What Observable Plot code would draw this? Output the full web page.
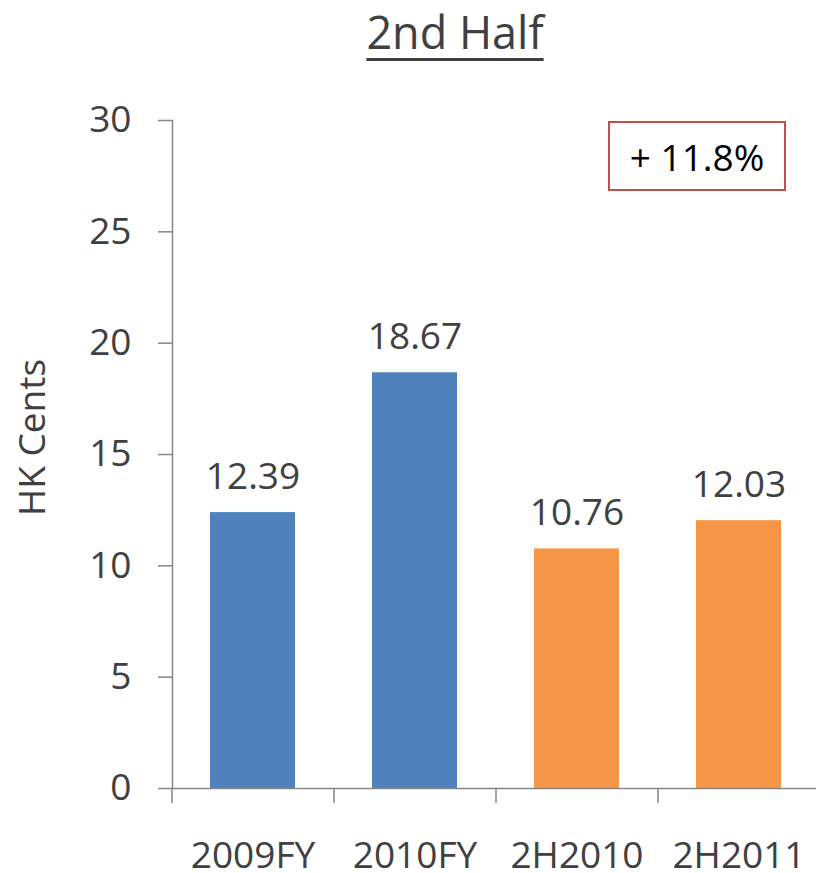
<!DOCTYPE html>
<html>
<head>
<meta charset="utf-8">
<script src="https://cdn.jsdelivr.net/npm/d3@7"></script>
<script src="https://cdn.jsdelivr.net/npm/@observablehq/plot@0.6"></script>
<style>
  html, body { margin: 0; padding: 0; background: #fff; }
  #wrap { position: relative; width: 816px; height: 873px; font-family: "Open Sans", sans-serif; }
  #title {
    position: absolute; left: 0; top: 0; width: 910px; text-align: center;
    font-size: 45px; line-height: 45px; padding-top: 9px; color: #404040;
  }
  #title span {
    text-decoration: underline; text-decoration-thickness: 3px; text-underline-offset: 9px;
  }
  #chart { position: absolute; left: 0; top: 70px; }
  #chart svg { overflow: visible; }
  #note {
    position: absolute; left: 608px; top: 121px; width: 174px; height: 66px;
    border: 2px solid #C0504D; box-sizing: content-box;
    display: flex; align-items: center; justify-content: center;
    font-size: 37px; color: #000;
  }
</style>
</head>
<body>
<div id="wrap">
  <div id="title"><span>2nd Half</span></div>
  <div id="chart"></div>
  <div id="note"></div>
</div>
<script>
// Dividend per share, HK cents
const categories = ["2009FY", "2010FY", "2H2010", "2H2011"];
const values = [12.39, 18.67, 10.76, 12.03];
const periodType = ["Full year", "Full year", "Second half", "Second half"];
const yTicks = [0, 5, 10, 15, 20, 25, 30];
const changeLabel = "+ 11.8%";
const yLabel = "HK Cents";

const data = categories.map((c, i) => ({category: c, value: values[i], type: periodType[i]}));

const xRange = [172, 820];
const step = (xRange[1] - xRange[0]) / categories.length;
const axisGray = "#868686";
const textGray = "#404040";

const chart = Plot.plot({
  width: 816,
  height: 803,
  marginTop: 50,
  marginBottom: 85,
  marginLeft: 172,
  marginRight: 0,
  style: {fontFamily: "Open Sans", fontSize: "37px", color: textGray, background: "white"},
  x: {domain: categories, range: xRange, paddingInner: 0.475, paddingOuter: 0.2375},
  y: {domain: [0, 30]},
  color: {domain: ["Full year", "Second half"], range: ["#4F81BD", "#F79646"]},
  marks: [
    Plot.barY(data, {x: "category", y: "value", fill: "type"}),
    Plot.text(data, {x: "category", y: "value", text: d => d.value.toFixed(2),
      lineAnchor: "bottom", dy: -24, fill: textGray, fontSize: 37}),
    // y axis line and ticks
    Plot.frame({anchor: "left", stroke: axisGray, strokeWidth: 1.5}),
    Plot.axisY(yTicks, {tickSize: 14, tickPadding: 27, stroke: axisGray, strokeWidth: 1.5,
      fill: textGray, label: null}),
    // x axis line, ticks between categories, and category labels
    Plot.ruleY([0], {stroke: axisGray, strokeWidth: 1.5}),
    Plot.axisX({tickSize: 15, tickFormat: () => "", dx: -step / 2, stroke: axisGray,
      strokeWidth: 1.5, label: null}),
    Plot.axisX({tickSize: 0, tickPadding: 53, fill: textGray, label: null}),
    Plot.text([yLabel], {frameAnchor: "middle", rotate: -90, dx: -461, dy: -17,
      fill: textGray, fontSize: 37})
  ]
});

document.getElementById("chart").appendChild(chart);
document.getElementById("note").textContent = changeLabel;
</script>
</body>
</html>
